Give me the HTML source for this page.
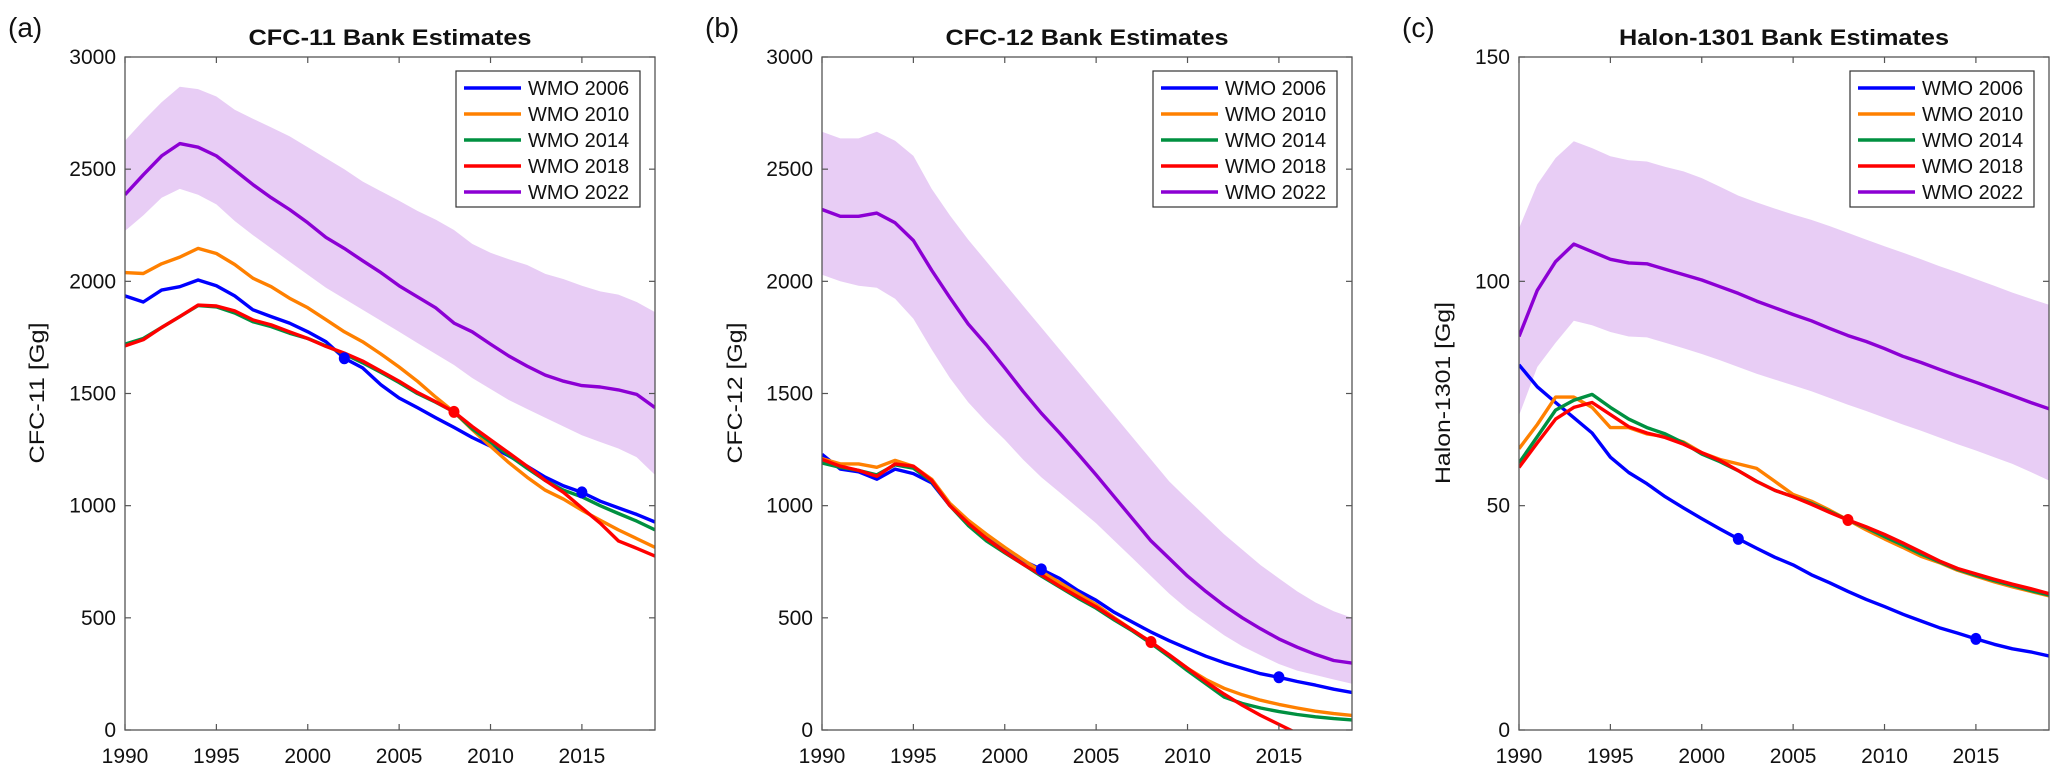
<!DOCTYPE html>
<html><head><meta charset="utf-8"><style>
html,body{margin:0;padding:0;background:#fff;}
svg{display:block;font-family:"Liberation Sans",sans-serif;}
</style></head><body>
<svg id="fig" width="2067" height="774" viewBox="0 0 2067 774" xmlns="http://www.w3.org/2000/svg"></svg>
<script>
const years = [1990,1991,1992,1993,1994,1995,1996,1997,1998,1999,2000,2001,2002,2003,2004,2005,2006,2007,2008,2009,2010,2011,2012,2013,2014,2015,2016,2017,2018,2019];
const seriesNames = ["WMO 2006","WMO 2010","WMO 2014","WMO 2018","WMO 2022"];
const xTicks = [1990,1995,2000,2005,2010,2015];

// CFC-11
const cfc11Blue = [1935,1908,1961,1976,2006,1980,1935,1873,1843,1814,1775,1731,1657,1614,1539,1480,1437,1392,1349,1304,1265,1222,1176,1127,1088,1059,1020,990,961,927];
const cfc11Orange = [2039,2035,2078,2108,2147,2124,2075,2014,1976,1925,1882,1829,1775,1731,1676,1618,1555,1484,1418,1339,1265,1192,1127,1069,1029,980,935,892,853,814];
const cfc11Green = [1720,1745,1794,1843,1892,1886,1859,1820,1798,1769,1745,1712,1676,1637,1594,1549,1500,1461,1418,1343,1284,1225,1167,1112,1069,1039,1000,965,931,892];
const cfc11Red = [1712,1740,1794,1843,1894,1890,1868,1828,1806,1775,1745,1710,1680,1645,1600,1555,1505,1463,1418,1353,1294,1235,1176,1112,1059,990,922,843,810,775];
const cfc11Purple = [2386,2475,2559,2614,2598,2559,2496,2431,2373,2320,2261,2196,2147,2092,2039,1980,1931,1882,1814,1775,1720,1667,1622,1582,1555,1535,1529,1516,1496,1437];
const cfc11Upper = [2627,2716,2798,2867,2857,2824,2765,2725,2686,2647,2598,2549,2500,2445,2402,2359,2314,2275,2229,2167,2127,2098,2073,2033,2010,1980,1955,1941,1908,1863];
const cfc11Lower = [2225,2294,2373,2412,2386,2343,2269,2206,2147,2088,2029,1971,1922,1873,1824,1775,1725,1676,1627,1569,1520,1471,1431,1392,1353,1314,1284,1255,1216,1137];
const cfc11YTicks = [0,500,1000,1500,2000,2500,3000];

// CFC-12
const cfc12Blue = [1229,1163,1151,1118,1163,1143,1102,1000,922,863,804,755,716,676,622,578,524,480,437,398,363,329,300,275,251,235,216,200,182,167];
const cfc12Orange = [1210,1186,1186,1171,1202,1176,1118,1010,935,873,814,759,706,657,608,559,500,445,392,333,275,225,186,157,133,114,98,84,73,65];
const cfc12Green = [1190,1171,1157,1137,1182,1167,1108,1000,912,843,790,739,686,637,588,543,490,441,386,327,265,206,147,118,98,82,69,59,51,45];
const cfc12Red = [1206,1176,1157,1131,1186,1176,1112,1000,922,853,794,739,692,641,594,549,496,445,392,335,275,215,160,110,65,25,-15];
const cfc12Purple = [2320,2290,2290,2304,2261,2182,2049,1927,1810,1716,1614,1510,1412,1324,1231,1137,1039,941,843,765,686,618,555,500,451,406,369,337,310,298];
const cfc12Upper = [2667,2637,2637,2667,2627,2559,2412,2294,2186,2088,1990,1892,1794,1696,1598,1500,1402,1304,1206,1108,1029,951,873,804,735,676,618,569,529,500];
const cfc12Lower = [2029,2000,1980,1971,1922,1833,1696,1569,1461,1373,1294,1206,1127,1059,990,922,843,765,686,608,539,480,422,373,333,294,265,245,225,206];
const cfc12YTicks = [0,500,1000,1500,2000,2500,3000];

// Halon-1301
const halonBlue = [81.4,76.5,73,69.6,66.2,60.8,57.4,54.9,52,49.5,47.1,44.8,42.6,40.5,38.5,36.8,34.6,32.8,30.9,29.1,27.5,25.8,24.3,22.8,21.6,20.3,19.1,18.1,17.4,16.5];
const halonOrange = [62.7,68.1,74.2,74.2,71.9,67.4,67.4,66,65.4,64.2,61.8,60.3,59.3,58.3,55.4,52.5,51,49,46.8,44.6,42.6,40.7,38.7,37.3,35.6,34.3,33,31.9,30.9,29.9];
const halonGreen = [59.5,65.4,71.3,73.5,74.8,71.9,69.3,67.4,66,64,61.5,59.8,57.8,55.4,53.4,52,50.5,48.7,46.8,45.1,43.1,41.2,39.2,37.5,35.8,34.5,33.3,32.2,31.1,30.1];
const halonRed = [58.5,64,69.3,71.9,73,70.3,67.6,66.2,65.2,63.7,61.8,60.1,57.8,55.4,53.4,52,50.3,48.5,46.8,45.3,43.6,41.7,39.7,37.7,36,34.8,33.6,32.5,31.5,30.4];
const halonPurple = [87.7,98,104.4,108.3,106.6,104.9,104.1,103.9,102.7,101.5,100.3,98.8,97.3,95.6,94.1,92.6,91.2,89.5,87.9,86.6,85,83.3,81.9,80.4,78.9,77.5,76,74.5,73,71.6];
const halonUpper = [111.8,121.6,127.5,131.2,129.7,127.9,127,126.7,125.5,124.5,123,121.1,119.1,117.6,116.2,114.9,113.7,112.3,110.8,109.3,107.8,106.4,104.9,103.4,102,100.5,99,97.5,96.1,94.8];
const halonLower = [70.1,80.9,86.3,91.2,90.2,88.7,87.7,87.5,86.3,85.1,83.8,82.4,80.9,79.4,78.1,76.8,75.5,74,72.5,71.1,69.6,68.1,66.7,65.2,63.7,62.3,60.8,59.3,57.5,55.6];
const halonYTicks = [0,50,100,150];

// markers: [seriesIndex, year]
const markerSpec = [[0,2002],[0,2015],[3,2008]];

const colors = ["#0000ff","#ff8000","#009040","#ff0000","#8c00d4"];
const NS = "http://www.w3.org/2000/svg";
const svg = document.getElementById("fig");

function mk(tag, attrs, parent){
  const e = document.createElementNS(NS, tag);
  for (const k in attrs) e.setAttribute(k, attrs[k]);
  (parent||svg).appendChild(e);
  return e;
}

const panels = [
  {key:"cfc11", label:"(a)", title:"CFC-11 Bank Estimates", ylabel:"CFC-11 [Gg]", left:125, ymax:3000, yTicks:cfc11YTicks,
   series:[cfc11Blue,cfc11Orange,cfc11Green,cfc11Red,cfc11Purple], upper:cfc11Upper, lower:cfc11Lower, ylabX:44, ylabLen:141},
  {key:"cfc12", label:"(b)", title:"CFC-12 Bank Estimates", ylabel:"CFC-12 [Gg]", left:822, ymax:3000, yTicks:cfc12YTicks,
   series:[cfc12Blue,cfc12Orange,cfc12Green,cfc12Red,cfc12Purple], upper:cfc12Upper, lower:cfc12Lower, ylabX:742, ylabLen:141},
  {key:"halon", label:"(c)", title:"Halon-1301 Bank Estimates", ylabel:"Halon-1301 [Gg]", left:1519, ymax:150, yTicks:halonYTicks,
   series:[halonBlue,halonOrange,halonGreen,halonRed,halonPurple], upper:halonUpper, lower:halonLower, ylabX:1450, ylabLen:182}
];

const W = 530, TOP = 57, BOT = 730;
panels.forEach((p, pi) => {
  const L = p.left, R = L + W;
  const x = yr => L + (yr - 1990) / (2019 - 1990) * W;
  const y = v => BOT - v / p.ymax * (BOT - TOP);
  const g = mk("g", {});
  
  

  const clipId = "clip" + pi;
  const cp = mk("clipPath", {id: clipId}, g);
  mk("rect", {x:L, y:TOP, width:W, height:BOT-TOP}, cp);

  // band
  let d = "";
  p.upper.forEach((v,i)=>{ d += (i?"L":"M") + x(years[i]).toFixed(1) + "," + y(v).toFixed(1); });
  for (let i = p.lower.length-1; i >= 0; i--) d += "L" + x(years[i]).toFixed(1) + "," + y(p.lower[i]).toFixed(1);
  const band = mk("path", {d: d+"Z", fill:"#e8cdf5", stroke:"none", "clip-path":"url(#"+clipId+")"}, g);
  
  

  // series lines
  p.series.forEach((arr, si) => {
    let ld = "";
    arr.forEach((v,i)=>{ ld += (i?"L":"M") + x(years[i]).toFixed(1) + "," + y(v).toFixed(1); });
    const ln = mk("path", {d: ld, fill:"none", stroke:colors[si], "stroke-width":3.4, "stroke-linejoin":"round", "clip-path":"url(#"+clipId+")"}, g);
    
    
  });

  // markers
  markerSpec.forEach(([si, yr]) => {
    const idx = years.indexOf(yr);
    const v = p.series[si][idx];
    const c = mk("ellipse", {cx:x(yr), cy:y(v), rx:5.5, ry:6, fill:colors[si]}, g);
    
    
  });

  // axes box
  const box = mk("rect", {x:L, y:TOP, width:W, height:BOT-TOP, fill:"none", stroke:"#555", "stroke-width":1.3}, g);
  
  

  // x ticks
  xTicks.forEach(t => {
    const xx = x(t);
    mk("line", {x1:xx, y1:BOT, x2:xx, y2:BOT-6, stroke:"#555", "stroke-width":1.2}, g);
    mk("line", {x1:xx, y1:TOP, x2:xx, y2:TOP+6, stroke:"#555", "stroke-width":1.2}, g);
    const tl = mk("text", {x:xx, y:763, "text-anchor":"middle", "font-size":21, fill:"#111"}, g);
    tl.textContent = t;
    
    
  });
  // y ticks
  p.yTicks.forEach(t => {
    const yy = y(t);
    mk("line", {x1:L, y1:yy, x2:L+6, y2:yy, stroke:"#555", "stroke-width":1.2}, g);
    mk("line", {x1:R, y1:yy, x2:R-6, y2:yy, stroke:"#555", "stroke-width":1.2}, g);
    const tl = mk("text", {x:L-9, y:yy+7, "text-anchor":"end", "font-size":21, fill:"#111"}, g);
    tl.textContent = t;
    
    
  });

  // title
  const ti = mk("text", {x:L+W/2, y:45, "text-anchor":"middle", "font-size":22, "font-weight":"bold", fill:"#111", textLength: p.key==="halon"?330:283, lengthAdjust:"spacingAndGlyphs"}, g);
  ti.textContent = p.title;
  
  

  // panel label
  const pl = mk("text", {x:L-117, y:37, "font-size":28, fill:"#111"}, g);
  pl.textContent = p.label;
  
  

  // y label
  const yc = 393;
  const yl = mk("text", {x:p.ylabX, y:yc, "text-anchor":"middle", "font-size":21, fill:"#111", transform:"rotate(-90 "+p.ylabX+" "+yc+")", textLength:p.ylabLen, lengthAdjust:"spacingAndGlyphs"}, g);
  yl.textContent = p.ylabel;
  
  

  // legend
  const lg = mk("g", {}, g);
  
  
  mk("rect", {x:L+331, y:71, width:184, height:136, fill:"#fff", stroke:"#333", "stroke-width":1.2}, lg);
  seriesNames.forEach((n, si) => {
    const ey = 88 + si*26;
    const eg = mk("g", {}, lg);
    
    
    mk("line", {x1:L+339, y1:ey, x2:L+396, y2:ey, stroke:colors[si], "stroke-width":3.4}, eg);
    const lt = mk("text", {x:L+403, y:ey+7, "font-size":20, fill:"#111"}, eg);
    lt.textContent = n;
  });
});
</script>
</body></html>
